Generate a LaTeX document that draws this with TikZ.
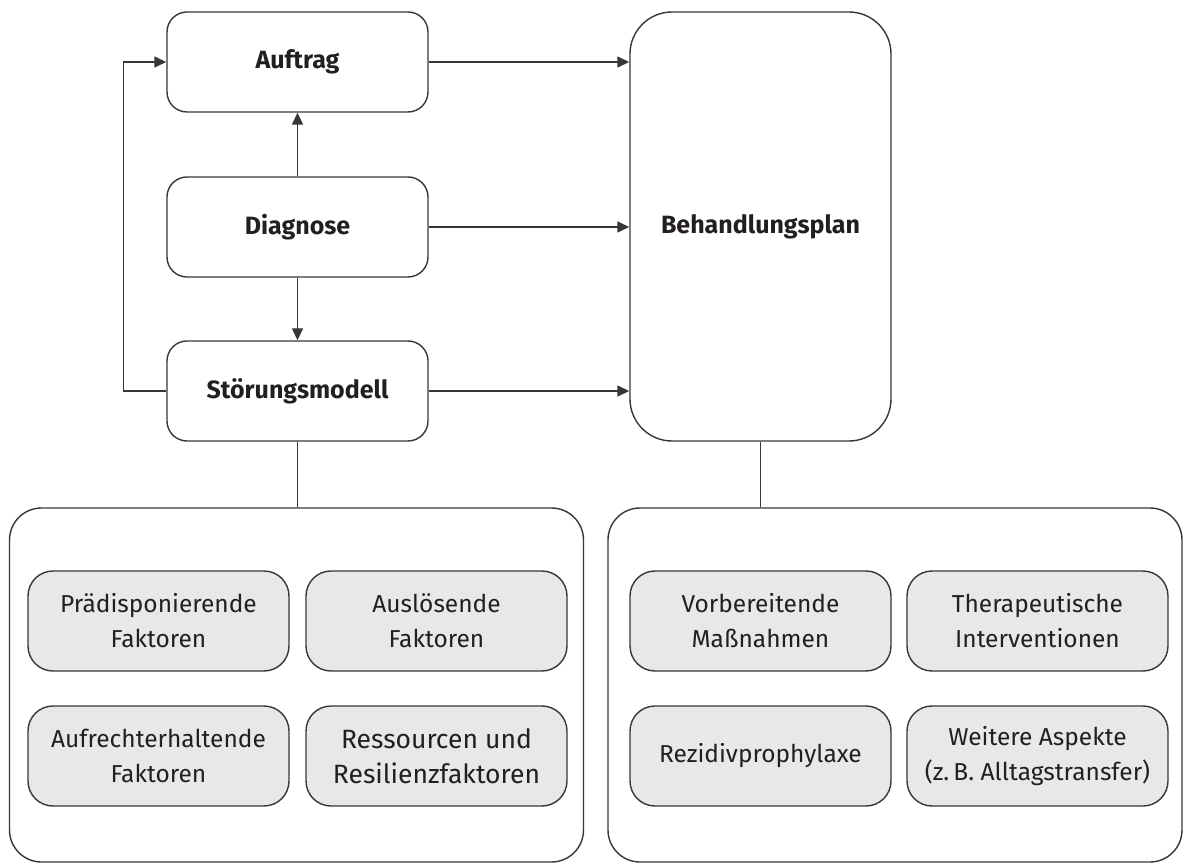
\documentclass[tikz,border=0pt]{standalone}
\usepackage{fontspec}
\setmainfont{Fira Sans}
\usetikzlibrary{arrows.meta}
\definecolor{inkDark}{HTML}{231F20}
\definecolor{lineGray}{HTML}{3A3634}
\definecolor{boxFill}{HTML}{E8E8E6}
\tikzset{>={Triangle[length=12pt,width=11pt]}}
\tikzset{
  stagebox/.style={draw=lineGray, rounded corners=20pt, minimum width=261pt,
    minimum height=100pt, inner sep=0pt, text=inkDark,
    font=\fontsize{25}{30}\selectfont\bfseries},
  factorbox/.style={draw=lineGray, fill=boxFill, rounded corners=25pt,
    minimum width=261pt, minimum height=100pt, inner sep=0pt, align=center,
    text=inkDark, font=\fontsize{24.5}{35}\selectfont},
  groupbox/.style={draw=lineGray, rounded corners=32pt, minimum width=574pt,
    minimum height=354pt},
  arr/.style={->, draw=lineGray},
  link/.style={draw=lineGray}
}

\begin{document}
\begin{tikzpicture}[x=1pt, y=-1pt, line width=1.4pt]
    \useasboundingbox (0,0) rectangle (1184,866);

    % upper part
    \node[stagebox] (auftrag)  at (297.5,62)  {Auftrag};
    \node[stagebox] (diagnose) at (297.5,227) {Diagnose};
    \node[stagebox] (stoerung) at (297.5,391) {Störungsmodell};
    \node[stagebox, minimum height=429pt, rounded corners=42pt] (plan) at (760.5,226.5) {Behandlungsplan};

    \draw[arr] (auftrag.east) -- (auftrag.east -| plan.west);
    \draw[arr] (diagnose.east) -- (diagnose.east -| plan.west);
    \draw[arr] (stoerung.east) -- (stoerung.east -| plan.west);
    \draw[arr] (diagnose.north) -- (auftrag.south);
    \draw[arr] (diagnose.south) -- (stoerung.north);
    \draw[arr] (stoerung.west) -- ++(-43,0) |- (auftrag.west);

    % lower part
    \node[groupbox] (modell) at (296.5,685) {};
    \node[groupbox] (massn)  at (895,685) {};

    \draw[link] (stoerung.south) -- (stoerung.south |- modell.north);
    \draw[link] (plan.south) -- (plan.south |- massn.north);

    \node[factorbox] (praed)  at (158.5,621)  {Prädisponierende\\Faktoren};
    \node[factorbox] (ausl)   at (436.5,621)  {Auslösende\\Faktoren};
    \node[factorbox] (aufr)   at (158.5,756)  {Aufrechterhaltende\\Faktoren};
    \node[factorbox, font=\fontsize{26.5}{35}\selectfont] (ressou) at (436.5,756) {Ressourcen und\\Resilienzfaktoren};

    \node[factorbox] (vorb)   at (760.5,621)  {Vorbereitende\\Maßnahmen};
    \node[factorbox] (therap) at (1037.5,621) {Therapeutische\\Interventionen};
    \node[factorbox] (rezid)  at (760.5,756)  {Rezidivprophylaxe};
    \node[factorbox] (weiter) at (1037.5,756) {Weitere Aspekte\\(z.\,B. Alltagstransfer)};
\end{tikzpicture}
\end{document}
